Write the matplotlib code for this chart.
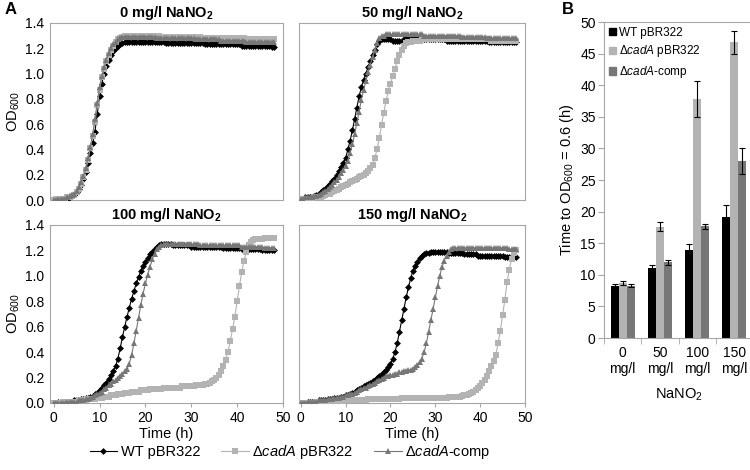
import numpy as np
import matplotlib
matplotlib.use("Agg")
import matplotlib.pyplot as plt
from matplotlib.lines import Line2D
from matplotlib.patches import Patch

plt.rcParams['font.family'] = ['Liberation Sans', 'DejaVu Sans']
plt.rcParams['mathtext.fontset'] = 'custom'
plt.rcParams['mathtext.rm'] = 'Liberation Sans'
plt.rcParams['mathtext.it'] = 'Liberation Sans:italic'
plt.rcParams['mathtext.bf'] = 'Liberation Sans:bold'

# ---- growth curves (OD600 every 30 min, 0-48 h) ----
time_h = np.arange(0, 48.5, 0.5)

wt_0 = [0.01, 0.01, 0.01, 0.01, 0.01, 0.01, 0.01, 0.02, 0.03, 0.04,
        0.06, 0.09, 0.12, 0.17, 0.22, 0.29, 0.37, 0.45, 0.54, 0.68,
        0.82, 0.92, 1.00, 1.06, 1.11, 1.15, 1.18, 1.20, 1.22, 1.23,
        1.24, 1.25, 1.25, 1.25, 1.25, 1.25, 1.25, 1.25, 1.25, 1.25,
        1.25, 1.25, 1.25, 1.25, 1.25, 1.25, 1.25, 1.25, 1.25, 1.24,
        1.24, 1.24, 1.24, 1.24, 1.24, 1.24, 1.24, 1.24, 1.24, 1.24,
        1.24, 1.24, 1.24, 1.24, 1.24, 1.24, 1.23, 1.23, 1.23, 1.23,
        1.23, 1.23, 1.23, 1.23, 1.23, 1.23, 1.23, 1.23, 1.23, 1.23,
        1.23, 1.23, 1.22, 1.22, 1.22, 1.22, 1.22, 1.22, 1.22, 1.22,
        1.22, 1.22, 1.22, 1.22, 1.22, 1.21, 1.21]
cad_0 = [0.00, 0.01, 0.01, 0.01, 0.01, 0.01, 0.02, 0.02, 0.03, 0.04,
         0.06, 0.09, 0.13, 0.18, 0.24, 0.32, 0.41, 0.51, 0.62, 0.75,
         0.87, 0.97, 1.04, 1.10, 1.15, 1.19, 1.22, 1.25, 1.27, 1.28,
         1.29, 1.30, 1.30, 1.30, 1.30, 1.30, 1.30, 1.30, 1.30, 1.30,
         1.30, 1.30, 1.30, 1.30, 1.30, 1.30, 1.30, 1.29, 1.29, 1.29,
         1.29, 1.29, 1.29, 1.29, 1.29, 1.29, 1.29, 1.29, 1.29, 1.29,
         1.29, 1.29, 1.29, 1.29, 1.29, 1.28, 1.28, 1.28, 1.28, 1.28,
         1.28, 1.28, 1.28, 1.28, 1.28, 1.28, 1.28, 1.28, 1.28, 1.28,
         1.28, 1.28, 1.28, 1.28, 1.27, 1.27, 1.27, 1.27, 1.27, 1.27,
         1.27, 1.27, 1.27, 1.27, 1.27, 1.27, 1.27]
comp_0 = [0.00, 0.00, 0.01, 0.01, 0.01, 0.01, 0.02, 0.03, 0.04, 0.05,
          0.07, 0.10, 0.14, 0.19, 0.25, 0.33, 0.42, 0.52, 0.64, 0.77,
          0.89, 0.98, 1.05, 1.11, 1.16, 1.20, 1.23, 1.25, 1.27, 1.28,
          1.29, 1.29, 1.29, 1.29, 1.29, 1.29, 1.29, 1.29, 1.29, 1.29,
          1.29, 1.29, 1.29, 1.29, 1.29, 1.28, 1.28, 1.28, 1.28, 1.28,
          1.28, 1.28, 1.28, 1.28, 1.28, 1.28, 1.28, 1.28, 1.28, 1.28,
          1.28, 1.28, 1.27, 1.27, 1.27, 1.27, 1.27, 1.27, 1.27, 1.27,
          1.27, 1.27, 1.27, 1.26, 1.26, 1.26, 1.26, 1.26, 1.26, 1.26,
          1.26, 1.26, 1.26, 1.26, 1.25, 1.25, 1.25, 1.25, 1.25, 1.25,
          1.25, 1.25, 1.25, 1.25, 1.25, 1.25, 1.25]

wt_50 = [0.01, 0.01, 0.02, 0.02, 0.02, 0.02, 0.03, 0.04, 0.05, 0.06,
         0.08, 0.09, 0.11, 0.13, 0.15, 0.17, 0.20, 0.23, 0.26, 0.29,
         0.33, 0.40, 0.47, 0.55, 0.64, 0.73, 0.82, 0.89, 0.95, 1.00,
         1.05, 1.10, 1.15, 1.19, 1.23, 1.26, 1.27, 1.27, 1.27, 1.27,
         1.27, 1.26, 1.26, 1.26, 1.26, 1.26, 1.27, 1.27, 1.27, 1.27,
         1.27, 1.27, 1.27, 1.27, 1.27, 1.27, 1.27, 1.27, 1.27, 1.27,
         1.27, 1.27, 1.27, 1.27, 1.27, 1.26, 1.26, 1.26, 1.26, 1.26,
         1.26, 1.26, 1.26, 1.26, 1.26, 1.26, 1.26, 1.26, 1.26, 1.26,
         1.26, 1.26, 1.26, 1.26, 1.25, 1.25, 1.25, 1.25, 1.25, 1.25,
         1.25, 1.25, 1.25, 1.25, 1.25, 1.25, 1.25]
cad_50 = [0.01, 0.01, 0.01, 0.01, 0.01, 0.01, 0.02, 0.02, 0.02, 0.02,
          0.03, 0.04, 0.05, 0.05, 0.06, 0.07, 0.08, 0.09, 0.10, 0.11,
          0.12, 0.13, 0.14, 0.15, 0.16, 0.17, 0.18, 0.19, 0.20, 0.21,
          0.23, 0.25, 0.28, 0.33, 0.40, 0.49, 0.59, 0.69, 0.78, 0.86,
          0.92, 0.98, 1.04, 1.10, 1.15, 1.19, 1.22, 1.24, 1.25, 1.25,
          1.26, 1.26, 1.26, 1.26, 1.27, 1.27, 1.27, 1.27, 1.27, 1.27,
          1.27, 1.27, 1.27, 1.27, 1.27, 1.27, 1.27, 1.27, 1.27, 1.27,
          1.27, 1.27, 1.27, 1.27, 1.27, 1.27, 1.27, 1.27, 1.27, 1.27,
          1.27, 1.27, 1.27, 1.27, 1.27, 1.26, 1.26, 1.26, 1.26, 1.26,
          1.26, 1.26, 1.26, 1.26, 1.26, 1.26, 1.26]
comp_50 = [0.01, 0.01, 0.02, 0.02, 0.02, 0.02, 0.03, 0.03, 0.04, 0.05,
           0.06, 0.07, 0.09, 0.10, 0.12, 0.14, 0.16, 0.18, 0.21, 0.24,
           0.27, 0.31, 0.37, 0.44, 0.52, 0.61, 0.70, 0.79, 0.87, 0.94,
           1.01, 1.07, 1.13, 1.19, 1.24, 1.28, 1.30, 1.30, 1.31, 1.31,
           1.31, 1.31, 1.31, 1.31, 1.31, 1.31, 1.31, 1.31, 1.31, 1.31,
           1.31, 1.31, 1.31, 1.31, 1.31, 1.30, 1.30, 1.30, 1.30, 1.30,
           1.30, 1.30, 1.30, 1.30, 1.30, 1.30, 1.30, 1.30, 1.30, 1.30,
           1.30, 1.30, 1.29, 1.29, 1.29, 1.29, 1.29, 1.29, 1.29, 1.29,
           1.29, 1.29, 1.29, 1.28, 1.28, 1.28, 1.28, 1.28, 1.28, 1.28,
           1.28, 1.28, 1.28, 1.28, 1.28, 1.28, 1.28]

wt_100 = [0.00, 0.00, 0.01, 0.01, 0.01, 0.01, 0.01, 0.01, 0.01, 0.02,
          0.02, 0.02, 0.03, 0.03, 0.04, 0.04, 0.05, 0.05, 0.07, 0.08,
          0.10, 0.12, 0.14, 0.16, 0.19, 0.22, 0.25, 0.29, 0.35, 0.43,
          0.52, 0.60, 0.68, 0.75, 0.82, 0.88, 0.94, 0.99, 1.04, 1.08,
          1.11, 1.14, 1.17, 1.19, 1.21, 1.23, 1.24, 1.25, 1.25, 1.25,
          1.25, 1.25, 1.24, 1.24, 1.24, 1.24, 1.24, 1.24, 1.24, 1.24,
          1.23, 1.23, 1.23, 1.23, 1.23, 1.23, 1.23, 1.23, 1.23, 1.23,
          1.23, 1.23, 1.23, 1.23, 1.22, 1.22, 1.22, 1.22, 1.22, 1.22,
          1.22, 1.22, 1.21, 1.21, 1.21, 1.21, 1.21, 1.21, 1.21, 1.21,
          1.21, 1.20, 1.20, 1.20, 1.20, 1.20, 1.20]
cad_100 = [0.00, 0.00, 0.00, 0.00, 0.01, 0.01, 0.01, 0.01, 0.01, 0.01,
           0.01, 0.02, 0.02, 0.02, 0.02, 0.03, 0.03, 0.03, 0.03, 0.04,
           0.04, 0.04, 0.05, 0.05, 0.05, 0.06, 0.06, 0.06, 0.07, 0.07,
           0.07, 0.08, 0.08, 0.08, 0.09, 0.09, 0.09, 0.09, 0.10, 0.10,
           0.10, 0.10, 0.11, 0.11, 0.11, 0.11, 0.11, 0.11, 0.12, 0.12,
           0.12, 0.12, 0.12, 0.12, 0.12, 0.12, 0.13, 0.13, 0.13, 0.13,
           0.13, 0.13, 0.14, 0.14, 0.14, 0.14, 0.15, 0.15, 0.16, 0.17,
           0.18, 0.20, 0.22, 0.25, 0.29, 0.34, 0.40, 0.49, 0.58, 0.68,
           0.80, 0.92, 1.03, 1.12, 1.19, 1.24, 1.27, 1.28, 1.29, 1.29,
           1.29, 1.29, 1.30, 1.30, 1.30, 1.30, 1.30]
comp_100 = [0.00, 0.00, 0.00, 0.00, 0.00, 0.00, 0.01, 0.01, 0.01, 0.01,
            0.01, 0.02, 0.02, 0.02, 0.03, 0.03, 0.04, 0.05, 0.06, 0.07,
            0.08, 0.09, 0.11, 0.12, 0.14, 0.15, 0.17, 0.18, 0.20, 0.21,
            0.23, 0.25, 0.27, 0.31, 0.38, 0.47, 0.57, 0.67, 0.77, 0.86,
            0.94, 1.01, 1.07, 1.13, 1.17, 1.21, 1.23, 1.24, 1.25, 1.25,
            1.25, 1.25, 1.25, 1.25, 1.25, 1.25, 1.25, 1.25, 1.25, 1.25,
            1.25, 1.25, 1.25, 1.25, 1.24, 1.24, 1.24, 1.24, 1.24, 1.24,
            1.24, 1.24, 1.24, 1.24, 1.24, 1.24, 1.24, 1.24, 1.24, 1.24,
            1.24, 1.24, 1.23, 1.23, 1.23, 1.23, 1.23, 1.23, 1.23, 1.23,
            1.23, 1.23, 1.22, 1.22, 1.22, 1.22, 1.22]

wt_150 = [0.00, 0.00, 0.00, 0.01, 0.01, 0.01, 0.01, 0.01, 0.02, 0.02,
          0.02, 0.02, 0.03, 0.03, 0.03, 0.04, 0.04, 0.04, 0.05, 0.05,
          0.06, 0.06, 0.07, 0.08, 0.09, 0.10, 0.11, 0.12, 0.13, 0.14,
          0.15, 0.16, 0.17, 0.18, 0.20, 0.21, 0.23, 0.24, 0.26, 0.28,
          0.31, 0.35, 0.40, 0.47, 0.56, 0.65, 0.74, 0.83, 0.91, 0.98,
          1.04, 1.08, 1.11, 1.14, 1.16, 1.17, 1.18, 1.18, 1.19, 1.19,
          1.19, 1.19, 1.19, 1.19, 1.19, 1.19, 1.18, 1.18, 1.18, 1.18,
          1.18, 1.18, 1.18, 1.17, 1.17, 1.17, 1.17, 1.17, 1.17, 1.16,
          1.16, 1.16, 1.16, 1.16, 1.16, 1.16, 1.16, 1.16, 1.16, 1.16,
          1.16, 1.15, 1.15, 1.15, 1.15, 1.15, 1.15]
cad_150 = [0.00, 0.00, 0.00, 0.00, 0.00, 0.00, 0.00, 0.01, 0.01, 0.01,
           0.01, 0.01, 0.01, 0.01, 0.01, 0.01, 0.01, 0.01, 0.01, 0.01,
           0.02, 0.02, 0.02, 0.02, 0.02, 0.02, 0.02, 0.02, 0.02, 0.02,
           0.03, 0.03, 0.03, 0.03, 0.03, 0.03, 0.03, 0.03, 0.03, 0.03,
           0.03, 0.03, 0.03, 0.03, 0.03, 0.04, 0.04, 0.04, 0.04, 0.04,
           0.04, 0.04, 0.04, 0.04, 0.04, 0.04, 0.04, 0.04, 0.04, 0.04,
           0.04, 0.04, 0.04, 0.04, 0.04, 0.04, 0.05, 0.05, 0.05, 0.05,
           0.05, 0.05, 0.055, 0.06, 0.06, 0.07, 0.075, 0.09, 0.10, 0.115,
           0.13, 0.155, 0.18, 0.21, 0.25, 0.29, 0.33, 0.38, 0.47, 0.57,
           0.69, 0.81, 0.95, 1.05, 1.13, 1.18, 1.20]
comp_150 = [0.00, 0.00, 0.00, 0.01, 0.01, 0.01, 0.01, 0.01, 0.02, 0.02,
            0.02, 0.02, 0.03, 0.03, 0.03, 0.04, 0.04, 0.04, 0.05, 0.05,
            0.06, 0.06, 0.07, 0.07, 0.08, 0.09, 0.10, 0.11, 0.12, 0.12,
            0.13, 0.14, 0.15, 0.16, 0.17, 0.18, 0.19, 0.20, 0.21, 0.21,
            0.22, 0.22, 0.23, 0.23, 0.24, 0.24, 0.25, 0.25, 0.26, 0.26,
            0.27, 0.28, 0.30, 0.32, 0.35, 0.40, 0.47, 0.56, 0.65, 0.74,
            0.83, 0.92, 1.00, 1.07, 1.12, 1.16, 1.19, 1.21, 1.22, 1.22,
            1.22, 1.22, 1.22, 1.22, 1.22, 1.22, 1.22, 1.22, 1.22, 1.22,
            1.22, 1.22, 1.22, 1.22, 1.22, 1.22, 1.22, 1.22, 1.22, 1.22,
            1.22, 1.22, 1.22, 1.21, 1.21, 1.21, 1.21]

panel_titles = ['0 mg/l NaNO$_{\\mathbf{2}}$', '50 mg/l NaNO$_{\\mathbf{2}}$',
                '100 mg/l NaNO$_{\\mathbf{2}}$', '150 mg/l NaNO$_{\\mathbf{2}}$']
curves = [(wt_0, cad_0, comp_0), (wt_50, cad_50, comp_50),
          (wt_100, cad_100, comp_100), (wt_150, cad_150, comp_150)]

# ---- panel B: time to OD600 = 0.6 ----
conc_labels = ['0\nmg/l', '50\nmg/l', '100\nmg/l', '150\nmg/l']
t_wt = [8.3, 11.0, 14.0, 19.1]
t_wt_err = [0.3, 0.6, 0.9, 1.9]
t_cad = [8.7, 17.6, 37.8, 46.8]
t_cad_err = [0.3, 0.7, 2.8, 1.8]
t_comp = [8.3, 12.0, 17.7, 28.0]
t_comp_err = [0.3, 0.4, 0.4, 2.1]

strain_labels = ['WT pBR322', 'Δ$\\mathit{cadA}$ pBR322', 'Δ$\\mathit{cadA}$-comp']
c_wt, c_cad, c_comp = '#000000', '#b3b3b3', '#777777'
frame = '#a6a6a6'

W, H = 750, 470
fig = plt.figure(figsize=(W / 100, H / 100), dpi=100)


def px_rect(l, t, r, b):
    return [l / W, 1 - b / H, (r - l) / W, (b - t) / H]


boxes = [(50, 23, 283, 200), (299, 23, 525, 200),
         (50, 225, 283, 403), (299, 225, 525, 403)]
xmins = [-0.8, -0.4, -0.8, -0.4]

for i, (box, title, (wt, cad, comp)) in enumerate(zip(boxes, panel_titles, curves)):
    ax = fig.add_axes(px_rect(*box))
    ax.plot(time_h, wt, color=c_wt, lw=0.8, marker='D', ms=3.5, mew=0, zorder=3)
    ax.plot(time_h, cad, color=c_cad, lw=0.8, marker='s', ms=3.9, mew=0, zorder=4)
    ax.plot(time_h, comp, color=c_comp, lw=0.8, marker='^', ms=4.6, mew=0, zorder=5)
    ax.set_xlim(xmins[i], 50)
    ax.set_ylim(0, 1.4)
    ax.set_xticks(range(0, 51, 10))
    ax.set_yticks(np.arange(0, 1.41, 0.2))
    for sp in ax.spines.values():
        sp.set_color(frame)
        sp.set_linewidth(0.8)
    ax.tick_params(axis='y', length=0, labelsize=10, pad=4)
    ax.tick_params(axis='x', length=3, color=frame, labelsize=10, pad=3)
    ax.set_title(title, fontsize=10.5, fontweight='bold', pad=4)
    if i % 2 == 0:
        ax.set_yticklabels(['%.1f' % v for v in np.arange(0, 1.41, 0.2)])
        ax.set_ylabel('OD$_{600}$', fontsize=10.5, labelpad=2)
    else:
        ax.set_yticklabels([])
    if i < 2:
        ax.set_xticklabels([])
        ax.tick_params(axis='x', length=0)
    else:
        ax.set_xlabel('Time (h)', fontsize=10.5, labelpad=1)

# legend for panel A
handles = [Line2D([], [], color=c_wt, lw=0.8, marker='D', ms=3.5, mew=0),
           Line2D([], [], color=c_cad, lw=0.8, marker='s', ms=3.8, mew=0),
           Line2D([], [], color=c_comp, lw=0.8, marker='^', ms=4.5, mew=0)]
fig.legend(handles, strain_labels, loc='center', ncol=3, frameon=False,
           bbox_to_anchor=(290 / W, 1 - 452 / H), fontsize=10.5,
           handlelength=1.9, handletextpad=0.25, columnspacing=1.4)

# panel B
axb = fig.add_axes(px_rect(604, 22, 753, 338))
x = np.arange(len(conc_labels))
bw = 0.215
ekw = dict(ecolor='black', elinewidth=0.8, capsize=2.5, capthick=0.8)
axb.bar(x - bw, t_wt, bw, yerr=t_wt_err, color=c_wt, error_kw=ekw, label=strain_labels[0])
axb.bar(x, t_cad, bw, yerr=t_cad_err, color=c_cad, error_kw=ekw, label=strain_labels[1])
axb.bar(x + bw, t_comp, bw, yerr=t_comp_err, color=c_comp, error_kw=ekw, label=strain_labels[2])
axb.set_xlim(-0.5, 3.5)
axb.set_ylim(0, 50)
axb.set_yticks(range(0, 51, 5))
axb.set_xticks(x)
axb.set_xticklabels(conc_labels, linespacing=1.15)
axb.set_xticks(np.arange(-0.5, 3.6, 1), minor=True)
axb.tick_params(axis='x', which='major', length=0, labelsize=10, pad=6)
axb.tick_params(axis='x', which='minor', length=4, color=frame)
axb.tick_params(axis='y', length=4, color=frame, labelsize=10, pad=2)
for sp in axb.spines.values():
    sp.set_color(frame)
    sp.set_linewidth(0.8)
axb.set_ylabel('Time to OD$_{600}$ = 0.6 (h)', fontsize=10.5, labelpad=3)
axb.set_xlabel('NaNO$_2$', fontsize=10.5, labelpad=8)
leg_handles = [Patch(color=c) for c in (c_wt, c_cad, c_comp)]
axb.legend(leg_handles, strain_labels, loc='upper left', frameon=False, fontsize=8.5,
           handlelength=0.6, handleheight=0.6, handletextpad=0.3,
           borderaxespad=0.2, labelspacing=0.4, borderpad=0.2)

fig.text(5 / W, 1 - 10 / H, 'A', fontsize=12, fontweight='bold', va='center')
fig.text(562 / W, 1 - 10 / H, 'B', fontsize=12, fontweight='bold', va='center')

fig.savefig('out.png', dpi=100)
